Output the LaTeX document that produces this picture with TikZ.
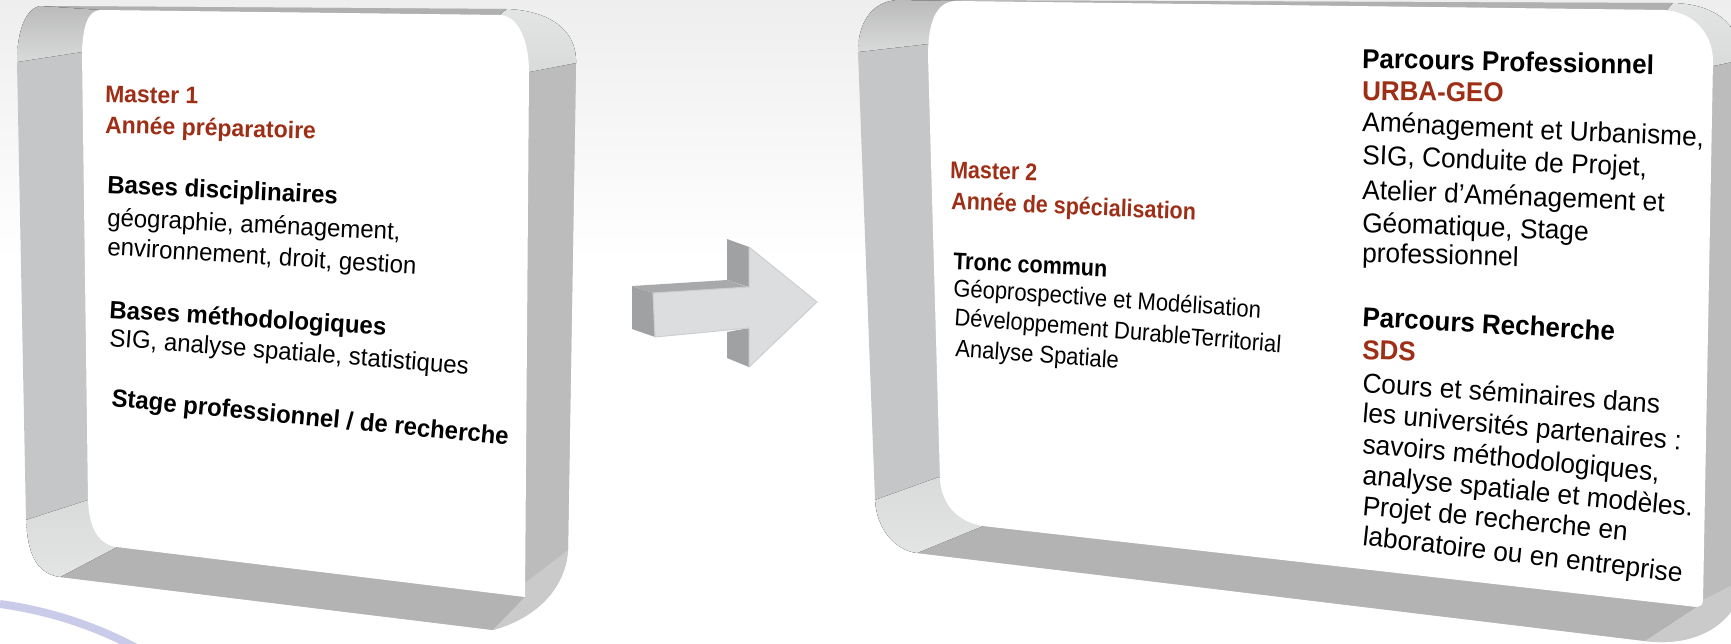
\documentclass[tikz,border=0pt]{standalone}
\usepackage{fontspec}
\setmainfont{Liberation Sans}
\definecolor{mred}{HTML}{9E2F16}
\definecolor{bandL}{HTML}{C5C6C8}
\definecolor{bandB}{HTML}{B3B3B3}
\definecolor{bandR}{HTML}{BCBCBC}
\definecolor{bandT}{HTML}{B0B0B0}
\definecolor{cornLight}{HTML}{E3E4E4}
\definecolor{cornLightB}{HTML}{D9DADA}
\definecolor{cornMid}{HTML}{CACACA}
\definecolor{cornDark}{HTML}{BBBBBB}
\definecolor{bgtop}{HTML}{EEEEEE}
\definecolor{arrFront}{HTML}{DCDDDF}
\definecolor{arrEdge}{HTML}{CDCED0}
\definecolor{arrSide}{HTML}{A0A1A3}
\definecolor{arrTop}{HTML}{A8A9AB}
\definecolor{arcCol}{HTML}{C9CBE9}
\begin{document}
\begin{tikzpicture}[x=1pt,y=-1pt,
  t/.style={anchor=base west, inner sep=0pt, outer sep=0pt},
  lhead/.style={font=\fontsize{23}{27}\selectfont\bfseries, text=mred, yscale=1.04},
  lbold/.style={font=\fontsize{24}{28}\selectfont\bfseries, yscale=1.04},
  lreg/.style={font=\fontsize{24}{28}\selectfont, yscale=1.04},
  rhead/.style={font=\fontsize{21.5}{26}\selectfont\bfseries, text=mred, yscale=1.12},
  rbold/.style={font=\fontsize{21.5}{26}\selectfont\bfseries, yscale=1.12},
  rreg/.style={font=\fontsize{22}{26}\selectfont, yscale=1.1},
  pbold/.style={font=\fontsize{26}{30}\selectfont\bfseries, yscale=1.05},
  preg/.style={font=\fontsize{26.3}{30}\selectfont, yscale=1.04},
  whiteface/.style={fill=white},
  arrside/.style={fill=arrSide}
]
\useasboundingbox (0,0) rectangle (1731,643);
% background
\fill[top color=bgtop, bottom color=white] (0,0) rectangle (1731,260);

% ================= LEFT BOX =================
\fill[bandL] (17,62) -- (26,520) .. controls (28,560) and (40,574) .. (60,577)
  -- (493,630) .. controls (540,617) and (566,585) .. (568,550)
  -- (576,63) .. controls (577,30) and (550,11) .. (507,9)
  -- (40,6) .. controls (22,10) and (17,40) .. (17,62) -- cycle;
\fill[bandB] (117,547) -- (60,577) -- (493,630) -- (525,597) -- cycle;
\fill[bandR] (529,72) -- (576,63) -- (568,550) -- (525,597) -- cycle;
\fill[bandT] (40,6) -- (507,9) -- (500,15) -- (100,10) -- cycle;
\fill[top color=cornDark, bottom color=cornLightB] (17,62) .. controls (17,40) and (22,10) .. (40,6) -- (100,10) -- (82,52) -- cycle;
\fill[top color=cornLight, bottom color=cornLightB] (507,9) .. controls (550,11) and (577,30) .. (576,63) -- (529,72) -- (500,15) -- cycle;
\fill[top color=cornLightB, bottom color=cornLight] (26,520) .. controls (28,560) and (40,574) .. (60,577) -- (117,547) -- (88,500) -- cycle;
\fill[cornMid] (493,630) .. controls (540,617) and (566,585) .. (568,550) -- (525,583) -- (525,597) -- cycle;
\fill[whiteface] (82,52) .. controls (83,25) and (88,11) .. (100,10) -- (500,15)
  .. controls (518,16) and (529,40) .. (529,72) -- (525,597) -- (117,547)
  .. controls (100,545) and (89,530) .. (88,500) -- cycle;

% ================= RIGHT BOX =================
\fill[bandL] (858,52) -- (875,500) .. controls (877,530) and (895,550) .. (917,553)
  -- (1645,641) .. controls (1700,648) and (1740,620) .. (1742,580)
  -- (1742,60) .. controls (1740,20) and (1710,4) .. (1673,3)
  -- (897,0) .. controls (870,2) and (858,25) .. (858,52) -- cycle;
\fill[bandB] (983,526) -- (917,553) -- (1645,641) -- (1697,607) -- cycle;
\fill[bandR] (1713,60) -- (1742,55) -- (1742,585) -- (1703,600) -- cycle;
\fill[bandT] (897,0) -- (1673,3) -- (1667,10) -- (955,1) -- cycle;
\fill[top color=cornDark, bottom color=cornLightB] (858,52) .. controls (858,25) and (870,2) .. (897,0) -- (955,1) -- (928,44) -- cycle;
\fill[top color=cornLight, bottom color=cornLightB] (1673,3) .. controls (1710,4) and (1740,20) .. (1742,60) -- (1713,66) -- (1667,10) -- cycle;
\fill[top color=cornLightB, bottom color=cornLight] (875,500) .. controls (877,530) and (895,550) .. (917,553) -- (983,526) -- (939,477) -- cycle;
\fill[cornMid] (1645,641) .. controls (1700,648) and (1740,620) .. (1742,580) -- (1703,600) -- (1697,607) -- cycle;
\fill[whiteface] (928,55) .. controls (928,25) and (935,2) .. (955,1) -- (1663,10)
  .. controls (1690,11) and (1712,30) .. (1713,60) -- (1703,600)
  .. controls (1703,605) and (1700,607) .. (1697,607) -- (983,526)
  .. controls (958,522) and (942,505) .. (940,480) -- cycle;

% ================= ARROW =================
\fill[arrside] (632,286) -- (653,293) -- (655,337) -- (632,329) -- cycle;
\fill[arrTop] (632,286) -- (727,280) -- (748,287) -- (653,293) -- cycle;
\fill[arrside] (727,239) -- (749,247) -- (749,287) -- (727,280) -- cycle;
\fill[arrside] (727,332) -- (749,328) -- (749,367) -- (727,358) -- cycle;
\filldraw[fill=arrFront, draw=arrEdge, line width=1pt, line join=miter]
  (653,293) -- (749,287) -- (749,247) -- (817,302) -- (749,367) -- (749,328) -- (655,337) -- cycle;

% ================= ARC =================
\draw[line width=8pt, arcCol] (0,604) .. controls (45,610) and (95,625) .. (140,650);

% ================= LEFT TEXT =================
\node[t, lhead, rotate=-1.3] (m1) at (105,102) {Master 1};
\node[t, lhead, rotate=-1.6] (m1b) at (105,133) {Année préparatoire};
\node[t, lbold, rotate=-2.6] (bd) at (107,193) {Bases disciplinaires};
\node[t, lreg, rotate=-2.6] (bd1) at (107,226) {géographie, aménagement,};
\node[t, lreg, rotate=-3.4] (bd2) at (107,255) {environnement, droit, gestion};
\node[t, lbold, rotate=-3.4] (bm) at (109,318) {Bases méthodologiques};
\node[t, lreg, rotate=-4.3] (bm1) at (109,346) {SIG, analyse spatiale, statistiques};
\node[t, lbold, rotate=-5.4] (sp) at (111,406) {Stage professionnel / de recherche};

% ================= RIGHT TEXT, LEFT COLUMN =================
\node[t, rhead, rotate=-1.5] (m2) at (950,178) {Master 2};
\node[t, rhead, rotate=-2.3] (m2b) at (951,209) {Année de spécialisation};
\node[t, rbold, rotate=-2.6] (tc) at (953,269) {Tronc commun};
\node[t, rreg, rotate=-3.7] (tc1) at (953,296) {Géoprospective et Modélisation};
\node[t, rreg, rotate=-4.4] (tc2) at (954,325) {Développement DurableTerritorial};
\node[t, rreg, rotate=-4.0] (tc3) at (955,356) {Analyse Spatiale};

% ================= RIGHT TEXT, RIGHT COLUMN =================
\node[t, pbold, rotate=-1.2] (pp) at (1362,68) {Parcours Professionnel};
\node[t, pbold, text=mred, rotate=-0.8] (ug) at (1362,100) {URBA-GEO};
\node[t, preg, rotate=-2.5] (pp1) at (1362,131) {Aménagement et Urbanisme,};
\node[t, preg, rotate=-2.4] (pp2) at (1362,164) {SIG, Conduite de Projet,};
\node[t, preg, rotate=-2.3] (pp3) at (1362,199) {Atelier d’Aménagement et};
\node[t, preg, rotate=-2.1] (pp4) at (1362,232) {Géomatique, Stage};
\node[t, preg, rotate=-1.5] (pp5) at (1362,262) {professionnel};
\node[t, pbold, rotate=-3.2] (pr) at (1362,326) {Parcours Recherche};
\node[t, pbold, text=mred, rotate=-2] (sds) at (1362,359) {SDS};
\node[t, preg, rotate=-3.9] (pr1) at (1362,392) {Cours et séminaires dans};
\node[t, preg, rotate=-4.9] (pr2) at (1362,422) {les universités partenaires :};
\node[t, preg, rotate=-5.3] (pr3) at (1362,453) {savoirs méthodologiques,};
\node[t, preg, rotate=-5.4] (pr4) at (1362,484) {analyse spatiale et modèles.};
\node[t, preg, rotate=-5.3] (pr5) at (1362,515) {Projet de recherche en};
\node[t, preg, rotate=-6.4] (pr6) at (1362,545) {laboratoire ou en entreprise};
\end{tikzpicture}
\end{document}
